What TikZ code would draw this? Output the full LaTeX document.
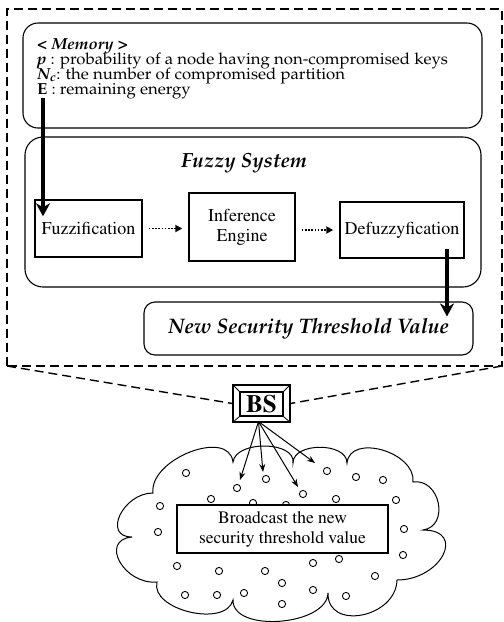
\documentclass[tikz,border=0pt]{standalone}
\usepackage[T1]{fontenc}
\usepackage{mathpazo}
\usetikzlibrary{arrows.meta,calc}
\newcommand\tms{\fontfamily{ptm}\selectfont}
\newcommand\widen[1]{\scalebox{1.045}[1]{#1}}

\begin{document}
\begin{tikzpicture}[x=1pt,y=-1pt,
  outerdash/.style={line width=1.4pt,dash pattern=on 9pt off 5pt},
  roundbox/.style={draw,line width=1.1pt,inner sep=0pt},
  stagebox/.style={draw,line width=1.4pt,fill=white,inner sep=0pt,align=center,
    font=\tms\fontsize{18}{20}\selectfont},
  memtext/.style={anchor=base west,inner sep=0pt,font=\fontsize{16}{15}\selectfont},
  bigarrow/.style={line width=3.4pt,-{Stealth[length=13pt,width=14pt,inset=4pt]}},
  dotarrow/.style={line width=1.8pt,dash pattern=on 1.6pt off 1.6pt,-{Triangle[length=7pt,width=7pt]}},
  castarrow/.style={line width=1pt,-{Stealth[length=8pt,width=6pt]}},
  sensor/.style={line width=0.9pt}]
\useasboundingbox (0,0) rectangle (504,622);
\fill[white] (0,0) rectangle (504,622);

% dashed frame around the processing part
\coordinate (frameNW) at (7,9);
\coordinate (frameNE) at (502,9);
\coordinate (frameSW) at (7,366);
\coordinate (frameSE) at (502,366);
\draw[outerdash] (frameSW) -- (frameNW) -- (frameNE) -- (frameSE) -- cycle;

% memory block
\node[roundbox,rounded corners=15pt,minimum width=459pt,minimum height=105pt] (memory) at (252.5,75.5) {};
\node[memtext] (memtitle) at (37,49) {\widen{\textbf{\textit{< Memory >}}}};
\node[memtext] (memp) at (37,64) {\widen{\textbf{\textit{p}} : probability of a node having non-compromised keys}};
\node[memtext] (memn) at (37,79.5) {\widen{\textbf{\textit{N\textsubscript{c}}}: the number of compromised partition}};
\node[memtext] (meme) at (37,94.5) {\widen{\textbf{E} : remaining energy}};

% fuzzy system block
\node[roundbox,rounded corners=18pt,minimum width=456pt,minimum height=150pt] (fuzzy) at (253,212) {};
\node[inner sep=0pt,font=\bfseries\itshape\fontsize{20.5}{22}\selectfont] (fuzzytitle) at (244,163) {Fuzzy System};

\node[stagebox,minimum width=107pt,minimum height=57pt] (fuzz) at (88.5,228.5) {Fuzzification};
\node[stagebox,minimum width=106pt,minimum height=68pt] (infer) at (242,227) {Inference\\Engine};
\node[stagebox,minimum width=124pt,minimum height=56pt] (defuzz) at (402,230) {Defuzzyfication};

\draw[dotarrow,shorten <=6pt,shorten >=6pt] (fuzz.east) -- (infer.west |- fuzz.east);
\draw[dotarrow,shorten <=6pt,shorten >=6pt] (infer.east |- defuzz.west) -- (defuzz.west);

% result block
\node[roundbox,rounded corners=11pt,minimum width=329pt,minimum height=53pt,
  font=\bfseries\itshape\fontsize{21}{22}\selectfont] (newsec) at (308.5,328.5) {New Security Threshold Value};

% thick flow arrows
\coordinate (memtap) at (43,98);
\draw[bigarrow] (memtap) -- ($(memtap |- fuzz.north)+(0,17)$);
\coordinate (deftap) at (447,249);
\draw[bigarrow] (deftap) -- ($(deftap |- newsec.north)+(0,15)$);

% base station
\node[draw,line width=1.1pt,minimum width=57pt,minimum height=37pt,inner sep=0pt] (bs) at (261.5,403.5) {};
\node[draw,line width=1.1pt,minimum width=43pt,minimum height=24pt,inner sep=0pt,
  font=\tms\bfseries\fontsize{25}{25}\selectfont] (bsin) at (261.5,404) {BS};
\draw[line width=0.8pt] (bs.north west) -- (bsin.north west)
  (bs.north east) -- (bsin.north east)
  (bs.south west) -- (bsin.south west)
  (bs.south east) -- (bsin.south east);

\draw[outerdash] (frameSW) -- (bs.west);
\draw[outerdash] (frameSE) -- (bs.east);

% sensor field
\draw[line width=1pt]
  (153,493) .. controls (149,459) and (229,428) .. (233,462)
  .. controls (236,440) and (296,441) .. (293,463)
  .. controls (293,442) and (347,442) .. (347,463)
  .. controls (350,433) and (416,452) .. (413,482)
  .. controls (440,478) and (450,526) .. (423,530)
  .. controls (467,530) and (441,580) .. (397,580)
  .. controls (396,618) and (327,631) .. (328,593)
  .. controls (327,626) and (232,633) .. (233,600)
  .. controls (226,628) and (150,610) .. (157,582)
  .. controls (124,585) and (99,540) .. (132,537)
  .. controls (102,537) and (123,493) .. (153,493) -- cycle;

\foreach \px/\py in {186/473,237/488,266/479,303/494,327/471,356/477,383/480,
  211/499,253/503,286/505,336/499,396/500,160/506,158/532,404/529,403/555,
  177/566,219/571,265/571,313/563,339/559,375/576,282/583,185/595,217/595,
  244/593,313/590,346/596,282/604}
  \draw[sensor] (\px,\py) circle[radius=3.6pt];

\node[draw,line width=1.2pt,fill=white,minimum width=211pt,minimum height=48pt,inner sep=0pt,
  align=center,font=\tms\fontsize{17.5}{20}\selectfont] (cast) at (282.5,529)
  {Broadcast the new\\security threshold value};

\coordinate (hit1) at (240,480);
\coordinate (hit2) at (263,472);
\coordinate (hit3) at (298,487);
\coordinate (hit4) at (315,463);
\foreach \h in {hit1,hit2,hit3,hit4}
  \draw[castarrow] ($(bs.south)+(-3,-1)$) -- (\h);
\end{tikzpicture}
\end{document}
